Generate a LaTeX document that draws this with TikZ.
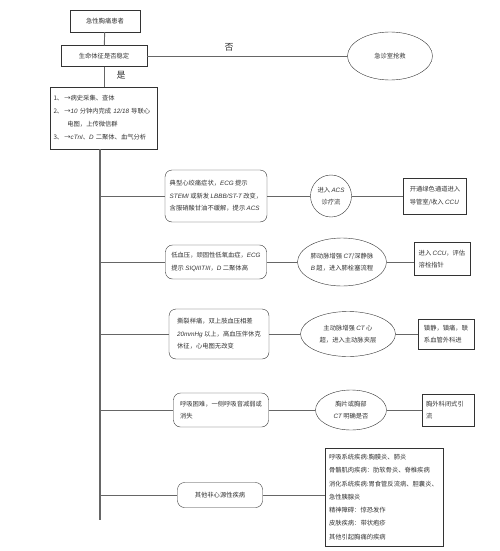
\documentclass[tikz,border=0pt]{standalone}
\usepackage{fontspec}
\setmainfont{Noto Sans CJK SC}
\newfontfamily\latf{Liberation Sans}
\newcommand\en[1]{{\latf\itshape #1}}
\usetikzlibrary{shapes.geometric}

\begin{document}
\begin{tikzpicture}[x=1pt,y=-1pt,
  every node/.style={font=\fontsize{6.3}{12.5}\selectfont,text=black!80},
  box/.style={draw=black!80,inner sep=0pt,align=left},
  rbox/.style={box,rounded corners=7pt},
  oval/.style={box,ellipse,align=center},
  link/.style={draw=black!60,line width=0.9pt}]
\useasboundingbox (0,0) rectangle (500,551);
% top part
\node[box,minimum width=70,minimum height=22] (start) at (105,21) {急性胸痛患者};
\node[box,minimum width=86,minimum height=21] (vital) at (104,56) {生命体征是否稳定};
\node[oval,minimum width=85,minimum height=48] (er) at (390,56) {急诊室抢救};
\node[font=\fontsize{9}{9}\selectfont] (no) at (229,47) {否};
\node[font=\fontsize{9}{9}\selectfont] (yes) at (121,75) {是};
\node[box,minimum width=107,minimum height=62,text width=100,
  font=\fontsize{6.3}{13}\selectfont] (check) at (103.5,118)
  {1、\,→病史采集、查体\\
   2、\,→\en{10} 分钟内完成 \en{12/18} 导联心\\
   \hspace*{2.2em}电图，上传微信群\\
   3、\,→\en{cTnI}、\en{D} 二聚体、血气分析};
\coordinate (bottom) at (100,520);
% rows
\node[rbox,minimum width=102,minimum height=52] (a1) at (216,196)
  {典型心绞痛症状，\en{ECG} 提示\\\en{STEMI} 或新发 \en{LBBB/ST-T} 改变，\\含服硝酸甘油不缓解，提示 \en{ACS}};
\node[oval,minimum width=41,minimum height=42] (b1) at (331,196) {进入 \en{ACS}\\诊疗流};
\node[box,minimum width=63,minimum height=36] (c1) at (435,196) {开通绿色通道进入\\导管室/收入 \en{CCU}};
\node[rbox,minimum width=101,minimum height=34] (a2) at (216,262)
  {低血压，顽固性低氧血症，\en{ECG}\\提示 \en{SIQIIITIII}，\en{D} 二聚体高};
\node[oval,minimum width=89,minimum height=48] (b2) at (342,262) {肺动脉增强 \en{CT}/深静脉\\\en{B} 超，进入肺栓塞流程};
\node[box,minimum width=56,minimum height=33] (c2) at (442,259) {进入 \en{CCU}，评估\\溶栓指针};
\node[rbox,minimum width=100,minimum height=50] (a3) at (219,334)
  {撕裂样痛，双上肢血压相差\\\en{20mmHg} 以上，高血压伴休克\\休征，心电图无改变};
\node[oval,minimum width=95,minimum height=45] (b3) at (348,334) {主动脉增强 \en{CT} 心\\超，进入主动脉夹层};
\node[box,minimum width=56,minimum height=30] (c3) at (446,334) {镇静，镇痛，联\\系血管外科进};
\node[rbox,minimum width=95,minimum height=34] (a4) at (221,410)
  {呼吸困难，一侧呼吸音减弱或\\消失};
\node[oval,minimum width=71,minimum height=40] (b4) at (351,410) {胸片或胸部\\\en{CT} 明确是否};
\node[box,minimum width=52,minimum height=32,text width=44] (c4) at (448,410) {胸外科闭式引\\流};
\node[rbox,minimum width=85,minimum height=25] (a5) at (220,495) {其他非心源性疾病};
\node[box,minimum width=118,minimum height=98,text width=110,
  font=\fontsize{6.3}{13.3}\selectfont] (b5) at (384,497)
  {呼吸系统疾病:胸膜炎、肺炎\\骨骼肌肉疾病：肋软骨炎、脊椎疾病\\消化系统疾病:胃食管反流病、胆囊炎、\\急性胰腺炎\\精神障碍：惊恐发作\\皮肤疾病：带状疱疹\\其他引起胸痛的疾病};
% connectors
\draw[link] (start) -- (vital);
\draw[link] (vital) -- (check.north -| vital);
\draw[link] (vital.east) -- (er.west);
\draw[link,line width=1.1pt] (check.south -| bottom) -- (bottom);
\foreach \i in {1,...,5}
  \draw[link] (bottom |- a\i.west) -- (a\i.west);
\foreach \i in {1,3,4}
  \draw[link] (a\i) -- (b\i) -- (c\i);
\draw[link] (a2) -- (b2) -- (b2.east -| c2.west);
\draw[link] (a5) -- (a5 -| b5.west);
\end{tikzpicture}
\end{document}
